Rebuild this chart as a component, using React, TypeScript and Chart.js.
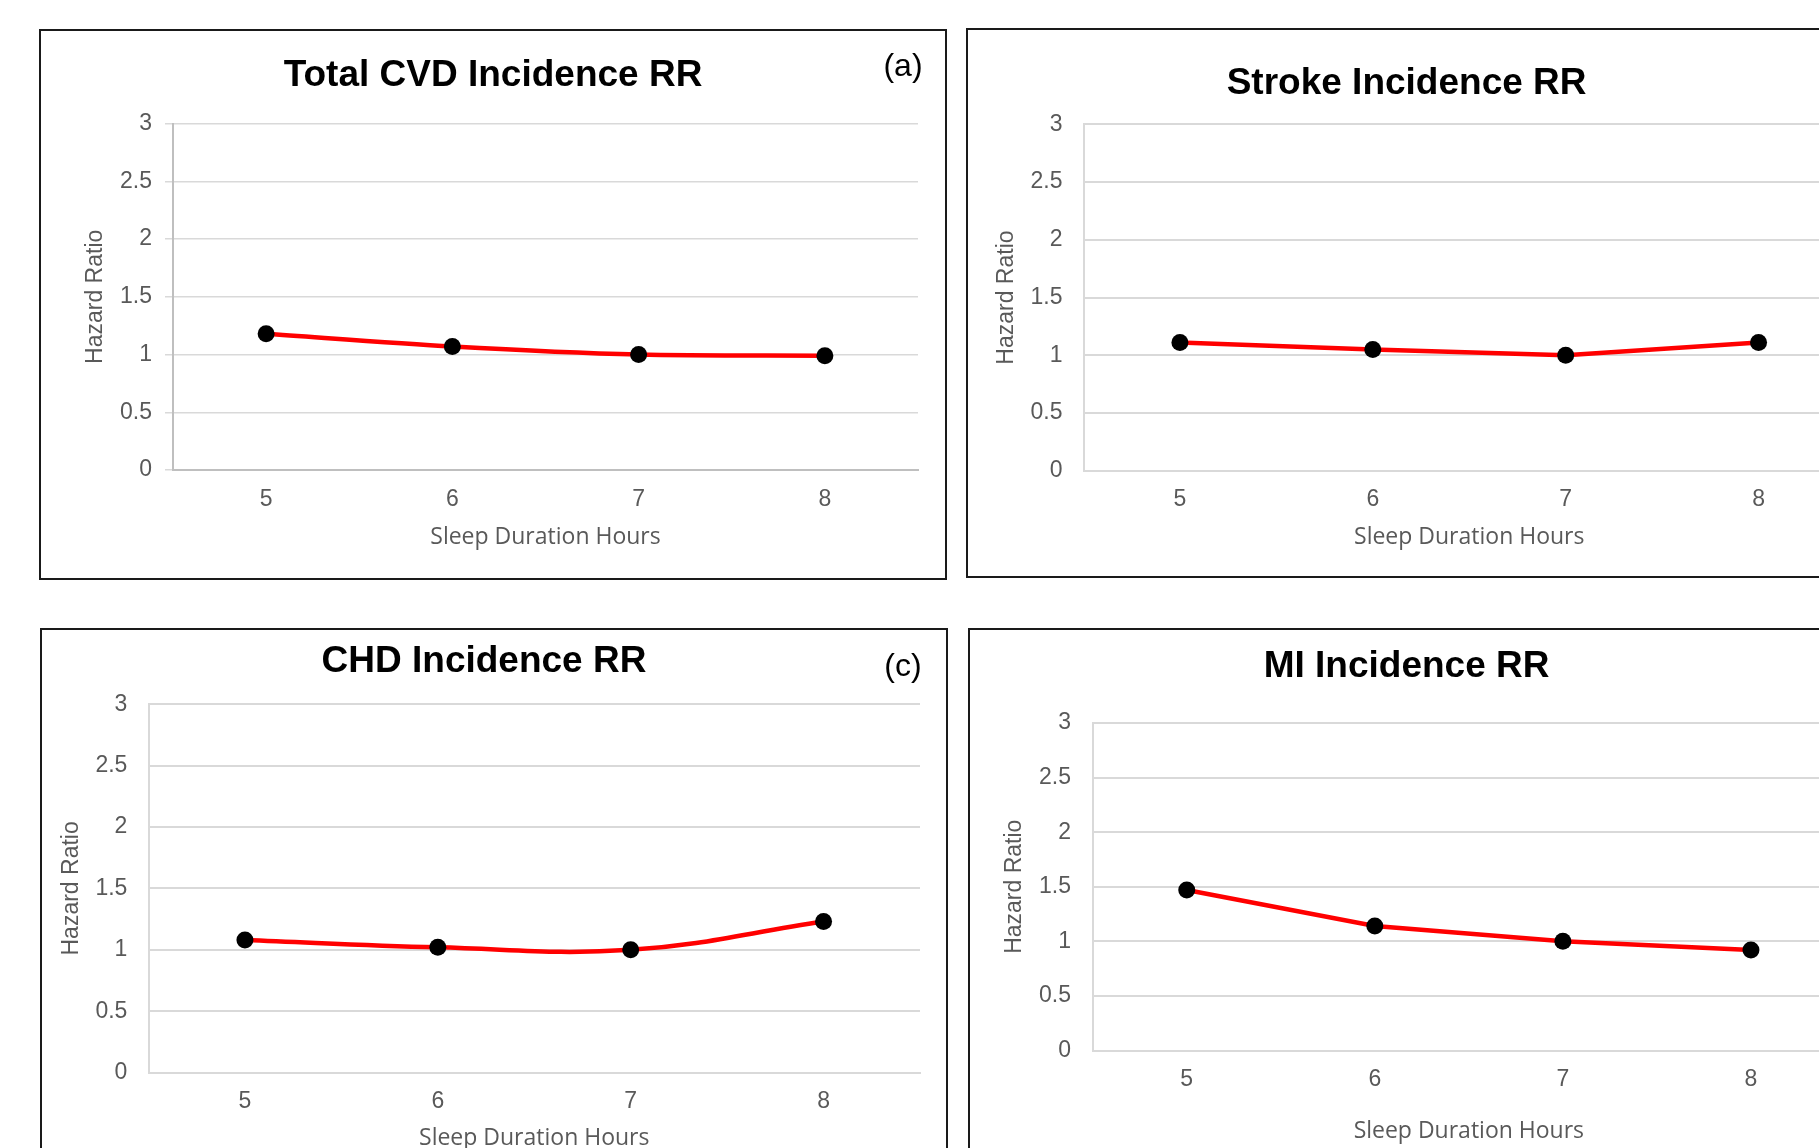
import React, { useEffect, useRef } from 'react';
import { Chart, registerables } from 'chart.js';

Chart.register(...registerables);

// ---- Data ----
const sleepHours = ['5', '6', '7', '8'];
const totalCvdRR = [1.18, 1.07, 1.0, 0.99];
const strokeRR = [1.11, 1.05, 1.0, 1.11];
const chdRR = [1.08, 1.02, 1.0, 1.23];
const miRR = [1.47, 1.14, 1.0, 0.92];
const hazardTicks = [0, 0.5, 1, 1.5, 2, 2.5, 3];
const panelTitles = ['Total CVD Incidence RR', 'Stroke Incidence RR', 'CHD Incidence RR', 'MI Incidence RR'];
const panelTags = ['(a)', '', '(c)', ''];
const xAxisTitle = 'Sleep Duration Hours';
const yAxisTitle = 'Hazard Ratio';

// ---- Layout (page coordinates) ----
type Spec = {
  box: { left: number; top: number; width: number; height: number };
  plot: { l: number; r: number; t: number; b: number };
  yTitleX: number;
  yTickRight: number;
  xTickY: number;
  xTitleY: number;
  titleX: number;
  titleY: number;
  tagX: number;
  tagY: number;
  tension: number;
  drawYTicks: boolean;
  gridWidth: number;
  axisColor: string;
};

const specs: Spec[] = [
  {
    box: { left: 39, top: 29, width: 908, height: 551 },
    plot: { l: 173, r: 918, t: 123.6, b: 470 },
    yTitleX: 96, yTickRight: 152, xTickY: 499.5, xTitleY: 537.7,
    titleX: 493, titleY: 76, tagX: 903, tagY: 67,
    tension: 0.3, drawYTicks: true, gridWidth: 1.5, axisColor: '#bfbfbf',
  },
  {
    box: { left: 966, top: 28, width: 920, height: 550 },
    plot: { l: 1083.5, r: 1855, t: 124.4, b: 470.7 },
    yTitleX: 1006.6, yTickRight: 1062.5, xTickY: 499.4, xTitleY: 537.7,
    titleX: 1406.6, titleY: 84, tagX: 0, tagY: 0,
    tension: 0, drawYTicks: false, gridWidth: 2, axisColor: '#d9d9d9',
  },
  {
    box: { left: 40, top: 628, width: 908, height: 560 },
    plot: { l: 148.5, r: 920, t: 704.2, b: 1072.6 },
    yTitleX: 71.6, yTickRight: 127.4, xTickY: 1101.6, xTitleY: 1138,
    titleX: 484, titleY: 662, tagX: 903, tagY: 667,
    tension: 0.4, drawYTicks: false, gridWidth: 2, axisColor: '#d9d9d9',
  },
  {
    box: { left: 968, top: 628, width: 920, height: 560 },
    plot: { l: 1092.7, r: 1845, t: 723, b: 1050.5 },
    yTitleX: 1014.8, yTickRight: 1071, xTickY: 1079.5, xTitleY: 1131.3,
    titleX: 1406.6, titleY: 667, tagX: 0, tagY: 0,
    tension: 0, drawYTicks: false, gridWidth: 2, axisColor: '#d9d9d9',
  },
];

const seriesList = [totalCvdRR, strokeRR, chdRR, miRR];

const BORDER = 2;
const TICK_SIZE = 23;
const YTITLE_SIZE = 23;
const XTITLE_SIZE = 23;
const SANS = '"Liberation Sans", Arial, sans-serif';

const panelTextPlugin = {
  id: 'panelText',
  afterDraw(chart: any, _args: any, opts: any) {
    const ctx = chart.ctx;
    ctx.save();
    ctx.fillStyle = '#000000';
    ctx.textBaseline = 'middle';
    ctx.textAlign = 'center';
    ctx.font = 'bold 37px ' + SANS;
    ctx.fillText(opts.title, opts.titleX, opts.titleY);
    if (opts.tag) {
      ctx.font = '32px ' + SANS;
      ctx.fillText(opts.tag, opts.tagX, opts.tagY);
    }
    ctx.restore();
  },
};

function Panel({ idx }: { idx: number }) {
  const ref = useRef<HTMLCanvasElement | null>(null);
  const s = specs[idx];
  const ox = s.box.left + BORDER;
  const oy = s.box.top + BORDER;
  const W = s.box.width - 2 * BORDER;
  const H = s.box.height - 2 * BORDER;

  useEffect(() => {
    const canvas = ref.current;
    if (!canvas) return;
    const tl = s.drawYTicks ? 8 : 0;
    const yAxisWidth = s.plot.l - ox;
    const xAxisHeight = oy + H - s.plot.b;
    const tickLH = TICK_SIZE * 1.2;
    const yTitleLH = YTITLE_SIZE * 1.2;
    const xTitleLH = XTITLE_SIZE * 1.2;

    const chart = new Chart(canvas, {
      type: 'line',
      data: {
        labels: sleepHours,
        datasets: [
          {
            data: seriesList[idx],
            borderColor: '#ff0000',
            borderWidth: 4.5,
            tension: s.tension,
            pointRadius: 8.5,
            pointBackgroundColor: '#000000',
            pointBorderColor: '#000000',
            pointBorderWidth: 0,
            fill: false,
          },
        ],
      },
      options: {
        animation: false,
        responsive: false,
        maintainAspectRatio: false,
        devicePixelRatio: 1,
        layout: {
          padding: { left: 0, top: s.plot.t - oy, right: ox + W - s.plot.r, bottom: 0 },
        },
        plugins: {
          legend: { display: false },
          tooltip: { enabled: false },
          // @ts-ignore
          panelText: {
            title: panelTitles[idx],
            titleX: s.titleX - ox,
            titleY: s.titleY - oy,
            tag: panelTags[idx],
            tagX: s.tagX - ox,
            tagY: s.tagY - oy,
          },
        },
        scales: {
          x: {
            type: 'category',
            offset: true,
            grid: { display: false, drawTicks: false },
            border: { display: true, color: s.axisColor, width: 2 },
            ticks: {
              color: '#595959',
              font: { family: SANS, size: TICK_SIZE },
              padding: s.xTickY - s.plot.b - tickLH / 2,
              maxRotation: 0,
            },
            title: {
              display: true,
              text: xAxisTitle,
              color: '#595959',
              font: { family: '"Open Sans", "Noto Sans", sans-serif', size: XTITLE_SIZE },
              padding: { top: 0, bottom: oy + H - s.xTitleY - xTitleLH / 2 },
            },
            afterFit: (scale: any) => {
              scale.height = xAxisHeight;
            },
          },
          y: {
            type: 'linear',
            min: 0,
            max: 3,
            afterBuildTicks: (scale: any) => {
              scale.ticks = hazardTicks.map((v) => ({ value: v }));
            },
            grid: {
              color: '#d9d9d9',
              lineWidth: s.gridWidth,
              drawTicks: s.drawYTicks,
              tickLength: 8,
            },
            border: { display: true, color: s.axisColor, width: 2 },
            ticks: {
              color: '#595959',
              font: { family: SANS, size: TICK_SIZE },
              padding: s.plot.l - tl - s.yTickRight,
              callback: (value: any) => String(Number(value)),
            },
            title: {
              display: true,
              text: yAxisTitle,
              color: '#595959',
              font: { family: SANS, size: YTITLE_SIZE },
              padding: { top: s.yTitleX - ox - yTitleLH / 2, bottom: 0 },
            },
            afterFit: (scale: any) => {
              scale.width = yAxisWidth;
            },
          },
        },
      },
      plugins: [panelTextPlugin as any],
    } as any);
    return () => chart.destroy();
  }, [idx]);

  return (
    <div
      style={{
        position: 'absolute',
        left: s.box.left,
        top: s.box.top,
        width: s.box.width - 2 * BORDER,
        height: s.box.height - 2 * BORDER,
        border: `${BORDER}px solid #1a1a1a`,
        background: '#ffffff',
      }}
    >
      <canvas ref={ref} width={W} height={H} style={{ display: 'block', width: W, height: H }} />
    </div>
  );
}

export default function App() {
  return (
    <div
      style={{
        position: 'fixed',
        left: 0,
        top: 0,
        width: 1819,
        height: 1148,
        overflow: 'hidden',
        background: '#ffffff',
      }}
    >
      {specs.map((_, i) => (
        <Panel key={i} idx={i} />
      ))}
    </div>
  );
}
